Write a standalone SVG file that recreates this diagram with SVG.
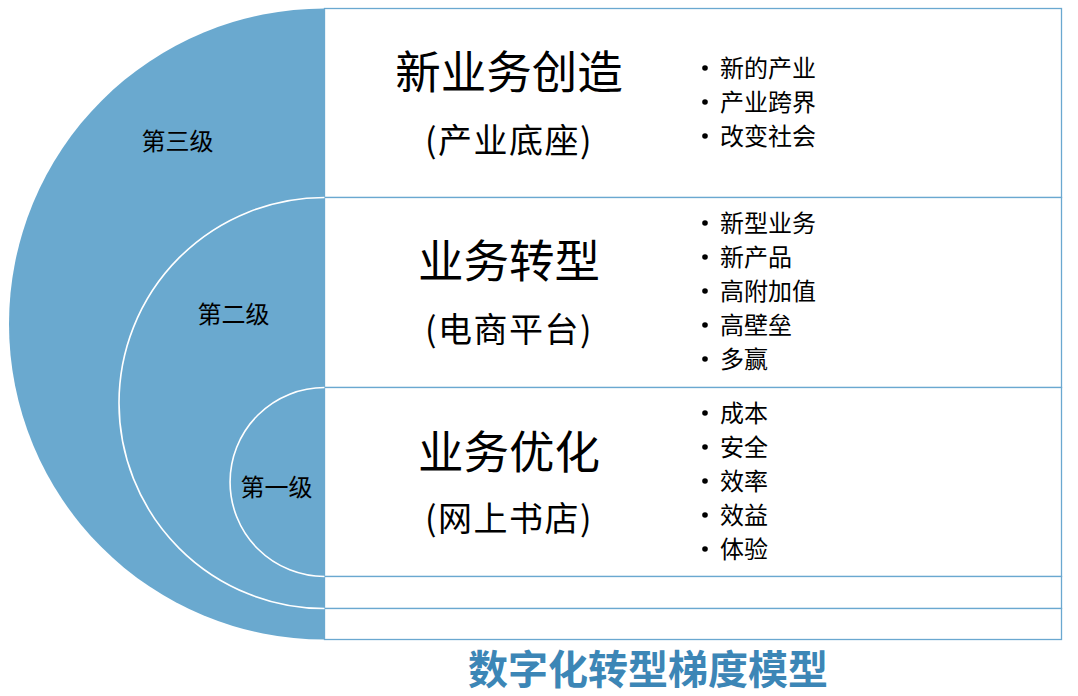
<svg xmlns="http://www.w3.org/2000/svg" width="1078" height="696" viewBox="0 0 1078 696">
<style>
.cjk{font-family:"Noto Sans CJK SC","Noto Sans",sans-serif;fill:#000}
.lvl{font-size:24px;text-anchor:middle;dominant-baseline:central}
.h1{font-size:45.5px;text-anchor:middle;dominant-baseline:central}
.h2{font-size:34px;text-anchor:middle;dominant-baseline:central;letter-spacing:1.5px}
.li{font-size:24px;dominant-baseline:central}
.row{fill:#fff;stroke:#6AA8D0;stroke-width:1.3}
.arc{fill:#6AA9CF}
.arcw{fill:#6AA9CF;stroke:#fff;stroke-width:1.6}
.title{font-family:"Noto Sans CJK SC","Noto Sans",sans-serif;font-size:40px;font-weight:bold;fill:#3C86B6;text-anchor:middle;dominant-baseline:central}
</style>
<defs><circle id="dot" r="2.8" fill="#000"/></defs>
<g id="rows">
<rect class="row" x="324.5" y="8.5" width="737" height="189"/>
<rect class="row" x="324.5" y="197.5" width="737" height="190"/>
<rect class="row" x="324.5" y="387.5" width="737" height="189"/>
<rect class="row" x="324.5" y="576.5" width="737" height="32"/>
<rect class="row" x="324.5" y="608.5" width="737" height="31"/>
</g>
<g id="level3">
<path class="arc" d="M324.5,8.5 A315.5,315.5 0 0 0 324.5,639.5 Z"/>
<text class="cjk lvl" x="177.5" y="139">第三级</text>
</g>
<g id="level2">
<path class="arcw" d="M324.5,197.5 A205.5,205.5 0 0 0 324.5,608.5"/>
<text class="cjk lvl" x="233.5" y="312">第二级</text>
</g>
<g id="level1">
<path class="arcw" d="M324.5,387.5 A94.5,94.5 0 0 0 324.5,576.5"/>
<text class="cjk lvl" x="276.5" y="485">第一级</text>
</g>
<g id="node-new-business">
<text class="cjk h1" x="509" y="69">新业务创造</text>
<text class="cjk h2" x="509" y="138">(产业底座)</text>
<use href="#dot" x="705" y="68"/><text class="cjk li" x="720" y="66.5">新的产业</text>
<use href="#dot" x="705" y="102"/><text class="cjk li" x="720" y="100.5">产业跨界</text>
<use href="#dot" x="705" y="136"/><text class="cjk li" x="720" y="134.5">改变社会</text>
</g>
<g id="node-transform">
<text class="cjk h1" x="509" y="258">业务转型</text>
<text class="cjk h2" x="509" y="327">(电商平台)</text>
<use href="#dot" x="705" y="223"/><text class="cjk li" x="720" y="221.5">新型业务</text>
<use href="#dot" x="705" y="257"/><text class="cjk li" x="720" y="255.5">新产品</text>
<use href="#dot" x="705" y="291"/><text class="cjk li" x="720" y="289.5">高附加值</text>
<use href="#dot" x="705" y="325"/><text class="cjk li" x="720" y="323.5">高壁垒</text>
<use href="#dot" x="705" y="359"/><text class="cjk li" x="720" y="357.5">多赢</text>
</g>
<g id="node-optimize">
<text class="cjk h1" x="509" y="449">业务优化</text>
<text class="cjk h2" x="509" y="516">(网上书店)</text>
<use href="#dot" x="705" y="413"/><text class="cjk li" x="720" y="411.5">成本</text>
<use href="#dot" x="705" y="447"/><text class="cjk li" x="720" y="445.5">安全</text>
<use href="#dot" x="705" y="481"/><text class="cjk li" x="720" y="479.5">效率</text>
<use href="#dot" x="705" y="515"/><text class="cjk li" x="720" y="513.5">效益</text>
<use href="#dot" x="705" y="549"/><text class="cjk li" x="720" y="547.5">体验</text>
</g>
<g id="connectors"/>
<g id="title">
<text class="title" x="648" y="667">数字化转型梯度模型</text>
</g>
</svg>
